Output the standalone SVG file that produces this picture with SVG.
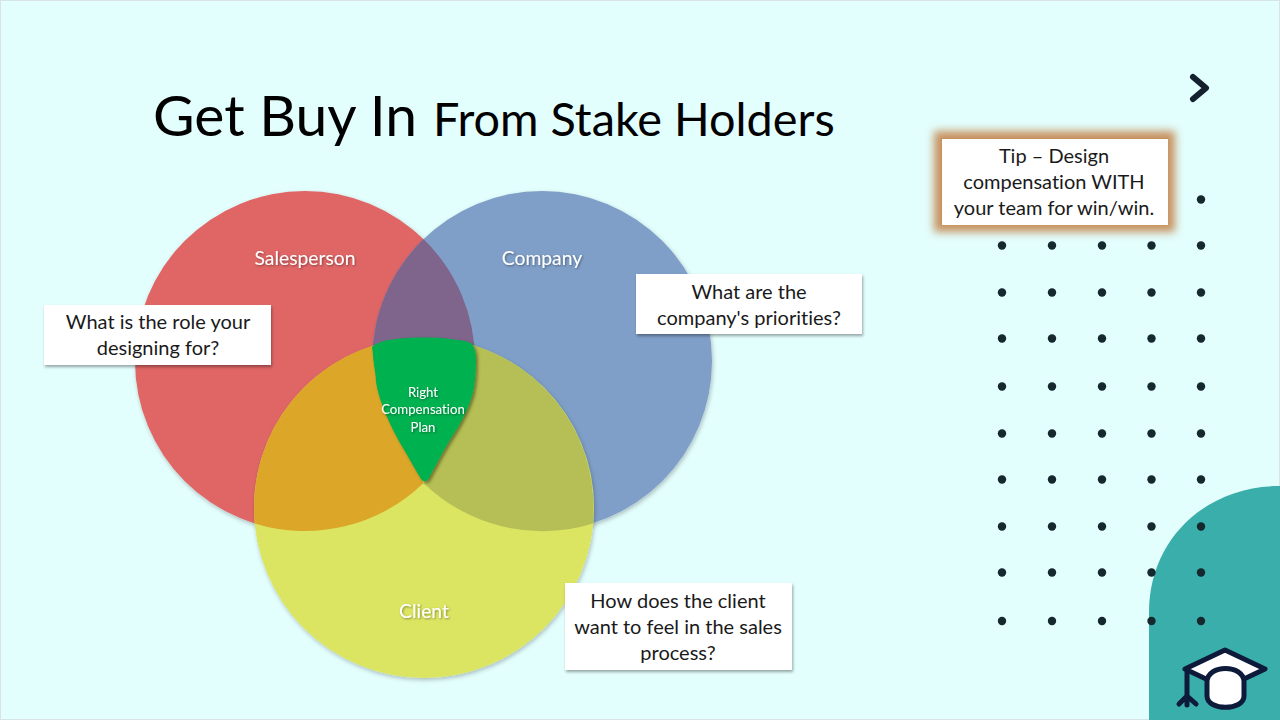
<svg xmlns="http://www.w3.org/2000/svg" width="1280" height="720" viewBox="0 0 1280 720">
<style>
text{font-family:Lato,"Liberation Sans",sans-serif;text-anchor:middle;font-variant-ligatures:none}
.b{font-size:20px;fill:#1a1a1a}
.w{font-size:19.3px;fill:#fff;filter:url(#ts)}
.s{font-size:13.2px;fill:#fff;filter:url(#ts)}
.box{fill:#fff;filter:url(#sh)}
.dots circle{fill:#14282e;r:4.2px}
.c{filter:url(#cs)}
</style>
<defs>
<filter id="sh" x="-10%" y="-10%" width="120%" height="130%"><feDropShadow dx="1" dy="2" stdDeviation="1.5" flood-color="#000" flood-opacity=".35"/></filter>
<filter id="cs" x="-10%" y="-10%" width="120%" height="120%"><feDropShadow dx="1" dy="2" stdDeviation="2" flood-color="#000" flood-opacity=".25"/></filter>
<filter id="ts" x="-10%" y="-20%" width="120%" height="150%"><feDropShadow dx="1" dy="1" stdDeviation="1" flood-color="#000" flood-opacity=".4"/></filter>
<filter id="glow" x="-15%" y="-25%" width="130%" height="150%"><feGaussianBlur stdDeviation="4.500"/></filter>
<filter id="gs" x="-20%" y="-20%" width="140%" height="140%"><feDropShadow dx="2" dy="2" stdDeviation="1.5" flood-color="#3a3a10" flood-opacity=".55"/></filter>
</defs>
<rect width="1280" height="720" fill="#e2fefd"/>
<rect x="0.5" y="0.5" width="1279" height="719" fill="none" stroke="#d8e4e4"/>
<path id="corner" d="M1149 720V612C1149 540 1205 486 1280 486V720Z" fill="#3aaeaa"/>
<g class="dots" id="dots">
<circle cx="1201" cy="199.500"/>
<circle cx="1002" cy="245.500"/><circle cx="1052" cy="245.500"/><circle cx="1102" cy="245.500"/><circle cx="1151.500" cy="245.500"/><circle cx="1201" cy="245.500"/>
<circle cx="1002" cy="292.500"/><circle cx="1052" cy="292.500"/><circle cx="1102" cy="292.500"/><circle cx="1151.500" cy="292.500"/><circle cx="1201" cy="292.500"/>
<circle cx="1002" cy="338.500"/><circle cx="1052" cy="338.500"/><circle cx="1102" cy="338.500"/><circle cx="1151.500" cy="338.500"/><circle cx="1201" cy="338.500"/>
<circle cx="1002" cy="386.500"/><circle cx="1052" cy="386.500"/><circle cx="1102" cy="386.500"/><circle cx="1151.500" cy="386.500"/><circle cx="1201" cy="386.500"/>
<circle cx="1002" cy="433.500"/><circle cx="1052" cy="433.500"/><circle cx="1102" cy="433.500"/><circle cx="1151.500" cy="433.500"/><circle cx="1201" cy="433.500"/>
<circle cx="1002" cy="479.500"/><circle cx="1052" cy="479.500"/><circle cx="1102" cy="479.500"/><circle cx="1151.500" cy="479.500"/><circle cx="1201" cy="479.500"/>
<circle cx="1002" cy="526.500"/><circle cx="1052" cy="526.500"/><circle cx="1102" cy="526.500"/><circle cx="1151.500" cy="526.500"/><circle cx="1201" cy="526.500"/>
<circle cx="1002" cy="572.500"/><circle cx="1052" cy="572.500"/><circle cx="1102" cy="572.500"/><circle cx="1151.500" cy="572.500"/><circle cx="1201" cy="572.500"/>
<circle cx="1002" cy="621"/><circle cx="1052" cy="621"/><circle cx="1102" cy="621"/><circle cx="1151.500" cy="621"/><circle cx="1201" cy="621"/>
</g>
<path id="chevron" d="M1193 77L1206 88L1193 99" fill="none" stroke="#14202e" stroke-width="6" stroke-linecap="round" stroke-linejoin="round"/>
<text id="title" x="153" y="136" fill="#000" style="text-anchor:start"><tspan font-size="57">Get Buy In</tspan><tspan x="433" font-size="46.800">From Stake Holders</tspan></text>
<g id="venn">
<circle id="salesperson" class="c" cx="305" cy="361" r="170" fill="#e06666"/>
<g id="company"><circle class="c" cx="542" cy="361" r="170" fill="#7f9fc8"/></g>
<path id="overlap-sc" d="M423.500 239.100A170 170 0 0 1 423.500 482.900A170 170 0 0 1 423.500 239.100Z" fill="#7f648c"/>
<g id="client"><circle class="c" cx="424" cy="508" r="170" fill="#dbe562"/></g>
<path id="overlap-sy" d="M254.700 523.400A170 170 0 0 1 373.200 345.600L410 345L405 440L423.500 482.900A170 170 0 0 1 254.700 523.400Z" fill="#dca628"/>
<path id="overlap-by" d="M592.800 523.400A170 170 0 0 0 474.300 345.600L440 345L445 440L423.500 482.900A170 170 0 0 0 592.800 523.400Z" fill="#b5bf55"/>
<path id="center" d="M372 347C376 343 385 340 393 339.500C410 337 435 337 450 339C460 340 468 341 472 344C475 348 476 354 476 360C476 372 475 383 473 393C468 410 460 425 450 440C442 453 434 469 429 478C427 482 423 482 421 479C414 468 408 456 400 443C390 425 379 402 376 382C376 374 373 362 373 355Z" fill="#00b14f" filter="url(#gs)"/>
<text class="w" x="305" y="265">Salesperson</text>
<text class="w" x="542" y="265">Company</text>
<text class="w" x="424" y="618">Client</text>
<text class="s" x="423" y="397">Right</text><text class="s" x="423" y="414">Compensation</text><text class="s" x="423" y="432">Plan</text>
</g>
<g id="q1"><rect class="box" x="44" y="305" width="227" height="60"/><text class="b" x="158" y="329">What is the role your</text><text class="b" x="158" y="355">designing for?</text></g>
<g id="q2"><rect class="box" x="636" y="274" width="226" height="60"/><text class="b" x="749" y="299">What are the</text><text class="b" x="749" y="325">company's priorities?</text></g>
<g id="q3"><rect class="box" x="565" y="583" width="227" height="87"/><text class="b" x="678" y="608">How does the client</text><text class="b" x="678" y="634">want to feel in the sales</text><text class="b" x="678" y="660">process?</text></g>
<g id="tip"><rect x="934" y="131" width="241" height="101" fill="#c8925f" filter="url(#glow)"/><rect x="941" y="138" width="227" height="87" fill="#c8925f"/><rect x="942" y="139" width="226" height="86" fill="#fff"/><text class="b" x="1054" y="163">Tip – Design</text><text class="b" x="1054" y="189">compensation WITH</text><text class="b" x="1054" y="215">your team for win/win.</text></g>
<g id="cap" stroke="#0d1a3a" stroke-width="5" stroke-linejoin="round" stroke-linecap="round">
<path d="M1225 650L1265 669L1225 688L1185 669Z" fill="#fff"/>
<path d="M1207 682C1207 664 1244 664 1244 682V696C1244 711 1207 711 1207 696Z" fill="#fff"/>
<path d="M1187 670V705M1179 704L1187 696L1196 704" fill="none"/>
</g>
</svg>
